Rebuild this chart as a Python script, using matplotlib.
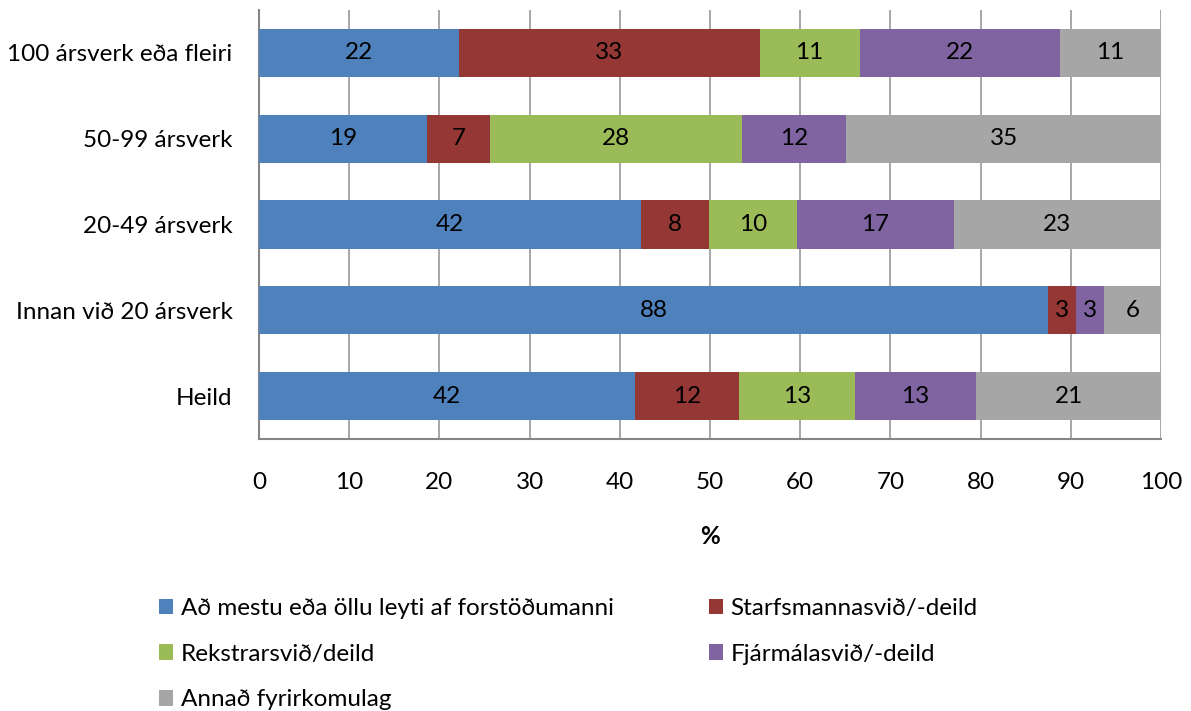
import matplotlib
matplotlib.use("Agg")
import matplotlib.pyplot as plt
from matplotlib.patches import Patch
import numpy as np

plt.rcParams['font.family'] = ['Lato', 'DejaVu Sans']

categories = ["Heild", "Innan við 20 ársverk", "20-49 ársverk", "50-99 ársverk", "100 ársverk eða fleiri"]
series_names = ["Að mestu eða öllu leyti af forstöðumanni", "Starfsmannasvið/-deild",
                "Rekstrarsvið/deild", "Fjármálasvið/-deild", "Annað fyrirkomulag"]
blue = [41.7, 87.5, 42.4, 18.6, 22.2]
red = [11.5, 3.1, 7.5, 7.0, 33.3]
green = [12.9, 0.0, 9.8, 27.9, 11.1]
purple = [13.4, 3.1, 17.3, 11.6, 22.2]
grey = [20.5, 6.3, 23.0, 34.9, 11.2]
labels = {
    0: ["42", "88", "42", "19", "22"],
    1: ["12", "3", "8", "7", "33"],
    2: ["13", "", "10", "28", "11"],
    3: ["13", "3", "17", "12", "22"],
    4: ["21", "6", "23", "35", "11"],
}
colors = ["#4f81bd", "#953735", "#9bbb59", "#8064a2", "#a6a6a6"]
xticks = [0, 10, 20, 30, 40, 50, 60, 70, 80, 90, 100]

FS = 17.5
fig = plt.figure(figsize=(11.91, 7.11), dpi=100)
ax = fig.add_axes([259/1191, 1-439/711, (1161-259)/1191, (439-10)/711])

y = np.arange(len(categories))
left = np.zeros(len(categories))
handles = []
for i, vals in enumerate([blue, red, green, purple, grey]):
    vals = np.array(vals)
    bars = ax.barh(y, vals, left=left, height=0.56, color=colors[i], zorder=3)
    for j, b in enumerate(bars):
        if labels[i][j]:
            ax.text(left[j] + vals[j]/2, y[j], labels[i][j], ha='center', va='center',
                    fontsize=FS, color='black', zorder=4)
    left = left + vals
    handles.append(Patch(facecolor=colors[i], label=series_names[i]))

ax.set_xlim(0, 100)
ax.set_ylim(-0.5, 4.5)
ax.set_xticks(xticks)
ax.set_yticks(y)
ax.set_yticklabels(categories)
ax.tick_params(axis='both', length=0, labelsize=FS)
ax.tick_params(axis='x', pad=24)
ax.tick_params(axis='y', pad=19)
ax.xaxis.grid(True, color='#a0a0a0', linewidth=1.3, zorder=0)
for s in ['top', 'right']:
    ax.spines[s].set_visible(False)
for s in ['left', 'bottom']:
    ax.spines[s].set_color('#868686')
    ax.spines[s].set_linewidth(1.5)
ax.set_xlabel('%', fontsize=FS, fontweight='bold', labelpad=23)

order = [0, 2, 4, 1, 3]
fig.legend([handles[k] for k in order], [series_names[k] for k in order],
           loc='upper left', bbox_to_anchor=(137/1191, 1-576/711), ncol=2,
           frameon=False, fontsize=FS, handlelength=0.6, handleheight=0.6,
           handletextpad=0.3, labelspacing=1.02, columnspacing=3.9)

fig.savefig("out.png", dpi=100)
